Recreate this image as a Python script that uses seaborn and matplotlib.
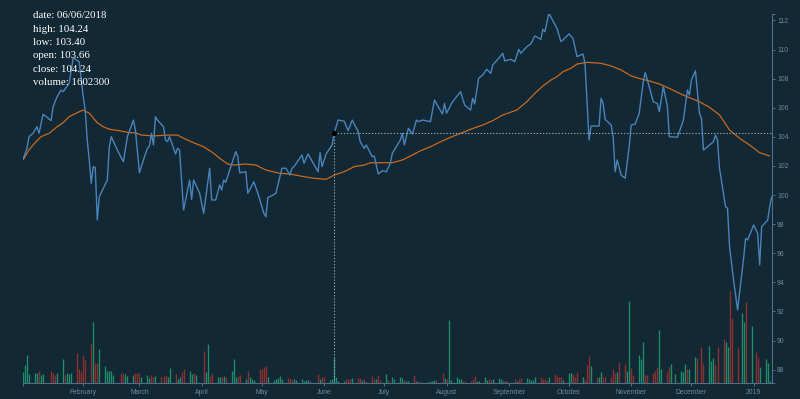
import pandas as pd
import matplotlib
matplotlib.use('Agg')
import matplotlib.pyplot as plt
import seaborn as sns

# price line vertices (days since 2018-01-01)
close_days = [1, 3, 4, 6, 8, 9, 11, 13, 15, 16, 18, 20, 21, 24, 26, 29, 31, 32, 33, 34, 35, 36, 37, 38, 39,
              43, 44, 45, 48, 51, 53, 56, 57, 59, 61, 63, 64, 65, 66, 67, 68, 71, 72, 73, 74, 77, 78, 79, 81,
              84, 85, 86, 89, 91, 94, 95, 97, 99, 100, 101, 102, 104, 107, 108, 109, 112, 113, 116, 118, 121,
              122, 123, 124, 127, 130, 132, 134, 135, 136, 140, 141, 143, 148, 149, 150, 152, 155, 156, 158,
              161, 163, 165, 168, 169, 171, 172, 175, 176, 178, 180, 182, 184, 185, 187, 189, 190, 191, 193,
              195, 197, 198, 200, 204, 206, 208, 210, 211, 212, 215, 216, 219, 220, 221, 224, 225, 226, 228,
              230, 232, 234, 235, 238, 240, 241, 244, 246, 248, 249, 252, 254, 256, 259, 260, 261, 263, 267,
              269, 270, 273, 275, 277, 280, 281, 283, 284, 288, 289, 290, 291, 294, 295, 296, 297, 299, 301,
              303, 304, 306, 308, 310, 311, 313, 315, 317, 318, 320, 322, 323, 327, 328, 330, 332, 333, 334,
              336, 338, 339, 340, 345, 346, 347, 348, 351, 352, 353, 355, 357, 360, 361, 362, 365, 367, 368,
              369, 372, 373, 374]
close_prices = [102.45, 103.21, 104.01, 104.24, 104.69, 104.24, 105.55, 105.34, 105.11, 106.07, 106.76,
                107.22, 107.10, 107.68, 109.42, 109.16, 106.76, 105.84, 103.78, 102.41, 100.80, 101.95,
                101.88, 98.28, 99.88, 101.03, 103.32, 104.01, 103.09, 102.29, 104.01, 105.15, 104.47,
                101.53, 102.41, 103.21, 103.37, 104.24, 103.44, 105.38, 105.15, 104.69, 103.78, 103.66,
                104.01, 102.82, 103.21, 103.09, 98.97, 101.03, 99.70, 101.03, 100.12, 98.74, 101.84, 99.66,
                99.66, 100.69, 100.34, 101.03, 100.87, 101.72, 102.98, 102.63, 101.53, 101.60, 100.12,
                100.91, 100.12, 98.74, 98.51, 99.84, 99.88, 100.12, 101.84, 101.84, 101.37, 101.84, 101.95,
                102.75, 102.18, 102.82, 101.60, 102.91, 101.95, 102.82, 103.44, 104.24, 105.15, 105.08,
                104.42, 105.15, 104.35, 103.66, 103.21, 103.44, 102.63, 102.68, 101.44, 101.67, 101.60,
                102.18, 102.87, 103.32, 103.78, 104.24, 103.44, 104.58, 104.19, 105.15, 105.04, 105.15,
                105.04, 106.53, 106.03, 105.57, 106.30, 105.62, 106.41, 106.58, 107.10, 106.65, 106.19,
                105.84, 106.65, 106.25, 108.02, 108.25, 108.64, 108.36, 108.93, 109.40, 109.74, 109.21,
                109.33, 109.16, 110.01, 109.74, 110.19, 110.38, 110.93, 110.70, 111.39, 111.22, 112.49,
                111.46, 110.54, 110.65, 111.07, 110.77, 109.51, 109.69, 109.00, 103.78, 104.74, 104.74,
                106.65, 106.30, 105.20, 104.81, 104.01, 101.60, 102.41, 101.37, 101.15, 103.32, 104.81,
                104.88, 105.62, 107.79, 108.41, 107.44, 106.41, 106.30, 105.73, 107.44, 106.12, 104.01,
                103.97, 104.35, 105.15, 107.22, 106.87, 107.90, 108.54, 105.62, 105.27, 103.09, 103.66,
                104.12, 103.78, 101.84, 99.20, 99.09, 96.45, 94.16, 92.10, 95.65, 97.02, 96.91, 97.94,
                97.37, 95.19, 97.82, 98.28, 99.20, 99.88]

# moving average curve
ma_days = [1, 4, 6, 10, 14, 18, 21, 24, 28, 31, 34, 38, 41, 44, 49, 54, 57, 60, 66, 73, 78, 81, 86, 91,
           96, 99, 103, 106, 112, 117, 122, 129, 134, 141, 146, 152, 156, 161, 166, 171, 174, 179, 185,
           190, 194, 199, 204, 209, 214, 219, 224, 230, 235, 240, 247, 252, 256, 260, 264, 267, 270, 274,
           277, 282, 289, 294, 299, 304, 309, 313, 318, 323, 328, 333, 338, 343, 348, 353, 358, 363, 368,
           373]
ma_values = [102.41, 103.09, 103.44, 104.01, 104.24, 104.69, 104.97, 105.38, 105.66, 105.84, 105.62,
             104.97, 104.69, 104.52, 104.42, 104.28, 104.28, 104.12, 104.06, 104.12, 104.12, 103.90,
             103.59, 103.32, 102.87, 102.52, 102.13, 102.06, 102.13, 102.06, 101.72, 101.49, 101.44,
             101.26, 101.15, 101.08, 101.37, 101.60, 101.95, 102.06, 102.22, 102.22, 102.22, 102.41,
             102.68, 103.04, 103.32, 103.66, 103.97, 104.24, 104.52, 104.81, 105.11, 105.50, 105.84,
             106.41, 106.99, 107.49, 107.90, 108.13, 108.47, 108.71, 109.00, 109.12, 109.05, 108.87,
             108.59, 108.18, 107.97, 107.84, 107.63, 107.33, 106.99, 106.69, 106.41, 106.03, 105.50,
             104.47, 103.90, 103.44, 102.91, 102.68]

# daily volume (millions) per month, U = up day, D = down day
vol_jan = [0.75, 1.18, 1.82, 0.60, 0.68, 0.64, 0.81, 0.53, 0.60, 0.81, 0.68, 0.53, 0.64, 1.56, 0.53,
           0.64, 0.60, 0.64, 1.92, 0.90, 0.75]
dir_jan = "UUUUUUDUUDDDUUDUUUDDD"
vol_feb = [1.82, 1.50, 2.52, 3.95, 1.28, 1.28, 2.18, 1.11, 0.81, 0.81, 0.81, 0.53, 0.68, 0.64, 0.60,
           0.47, 0.53, 0.68, 0.68]
dir_feb = "DDDUDDUUUUUUDDUUUDD"
vol_mar = [0.64, 0.43, 0.53, 0.32, 0.53, 0.38, 0.47, 0.38, 0.47, 0.53, 0.38, 0.96, 0.60, 0.26, 0.43,
           0.75, 0.90, 0.81, 0.60, 0.64, 0.53]
dir_mar = "DUUUDDUDDDUUDUUDDUUDU"
vol_apr = [2.09, 0.75, 2.52, 0.47, 0.64, 0.43, 0.43, 0.38, 0.47, 0.43, 0.81, 1.54, 0.43, 0.47, 0.53,
           0.26, 0.81, 0.43, 0.26, 0.21, 0.90]
dir_apr = "DUUDDUUDUDUUUDDUDUUUD"
vol_may = [0.90, 1.03, 1.11, 0.38, 0.21, 0.28, 0.32, 0.47, 0.28, 0.36, 0.36, 0.21, 0.28, 0.21, 0.28,
           0.17, 0.21, 0.19, 0.15, 0.60, 0.26, 0.43]
dir_may = "DDDUUUUUUDDDUUUUUUDDUD"
vol_jun = [0.38, 0.21, 0.30, 1.60, 0.43, 0.17, 0.17, 0.26, 0.26, 0.30, 0.36, 0.34, 0.34, 0.21, 0.30,
           0.11, 0.49, 0.26, 0.30, 0.51, 0.21]
dir_jun = "DUUUUUUDDDUDDUDUDDUDD"
vol_jul = [0.60, 0.21, 0.43, 0.26, 0.38, 0.32, 0.21, 0.15, 0.13, 0.53, 0.17, 0.15, 0.11, 0.11, 0.11,
           0.15, 0.17, 0.21, 0.21, 0.64, 0.36]
dir_jul = "UDUUUUDUUDUDUDUUUUDDU"
vol_aug = [0.30, 4.06, 0.21, 0.38, 0.30, 0.26, 0.13, 0.15, 0.17, 0.26, 0.47, 0.17, 0.15, 0.38, 0.21,
           0.26, 0.21, 0.26, 0.32, 0.28, 0.21, 0.17, 0.13]
dir_aug = "DUUUUUDDDDDUUUUDDUUUDUD"
vol_sep = [0.30, 0.17, 0.26, 0.34, 0.34, 0.26, 0.21, 0.21, 0.38, 0.38, 0.26, 0.26, 0.21, 0.38, 0.60,
           0.49, 0.38, 0.43, 0.21]
dir_sep = "DUDDUUUUUDDDDUDDDDU"
vol_oct = [0.64, 0.64, 0.60, 0.43, 0.75, 0.38, 0.21, 1.17, 1.75, 1.11, 0.38, 0.38, 0.75, 0.38, 0.38,
           0.38, 0.90, 0.64, 0.70, 1.39, 1.24, 0.81, 5.30]
dir_oct = "UUDDDUDDDUDUUDDDDDUDDUU"
vol_nov = [0.96, 0.53, 1.82, 1.56, 2.67, 0.53, 0.53, 0.68, 0.81, 1.03, 3.42, 0.90, 0.75, 1.07, 1.24,
           0.60, 0.81, 0.75, 1.24, 0.90, 0.90]
dir_nov = "DDUUUDDDDDUUDDUUUUUDU"
vol_dec = [1.67, 1.60, 2.31, 1.32, 2.39, 1.43, 1.60, 1.17, 2.31, 2.84, 2.67, 2.35, 5.92, 4.17, 2.24,
           4.49, 3.95, 5.19, 3.68]
dir_dec = "UDDDUUUDDDUUDDDUUDU"
vol_jan19 = [2.03, 1.71, 1.07, 1.56, 1.28, 0.15, 0.15]
dir_jan19 = "DDUUUUU"

holidays = ['2018-01-15', '2018-02-19', '2018-03-30', '2018-05-28', '2018-07-04', '2018-09-03',
            '2018-11-22', '2018-12-05', '2018-12-25', '2019-01-01']

month_ticks = ['2018-02-01', '2018-03-01', '2018-04-01', '2018-05-01', '2018-06-01', '2018-07-01',
               '2018-08-01', '2018-09-01', '2018-10-01', '2018-11-01', '2018-12-01', '2019-01-01']
month_labels = ['February', 'March', 'April', 'May', 'June', 'July', 'August', 'September',
                'October', 'November', 'December', '2019']
price_ticks = [88, 90, 92, 94, 96, 98, 100, 102, 104, 106, 108, 110, 112]

info_lines = ['date: 06/06/2018', 'high: 104.24', 'low: 103.40', 'open: 103.66',
              'close: 104.24', 'volume: 1602300']
cross_date = '2018-06-06'
cross_price = 104.24

BG = '#122834'
AXIS = '#4f6f88'
LABEL = '#6d8aa1'
UP = '#1f8f6b'
DOWN = '#902f2f'

start = pd.Timestamp('2018-01-01')
close = pd.DataFrame({'date': start + pd.to_timedelta(close_days, unit='D'), 'close': close_prices})
ma = pd.DataFrame({'date': start + pd.to_timedelta(ma_days, unit='D'), 'ma': ma_values})

trade_dates = pd.bdate_range('2018-01-02', '2019-01-10')
trade_dates = trade_dates[~trade_dates.isin(pd.to_datetime(holidays))]
volumes = vol_jan + vol_feb + vol_mar + vol_apr + vol_may + vol_jun + vol_jul + vol_aug + vol_sep \
    + vol_oct + vol_nov + vol_dec + vol_jan19
dirs = dir_jan + dir_feb + dir_mar + dir_apr + dir_may + dir_jun + dir_jul + dir_aug + dir_sep \
    + dir_oct + dir_nov + dir_dec + dir_jan19
vol = pd.DataFrame({'date': trade_dates, 'volume': volumes, 'dir': list(dirs)})

sns.set_style('dark')
plt.rcParams['font.family'] = ['Liberation Sans', 'DejaVu Sans']

fig = plt.figure(figsize=(8, 3.99), dpi=100, facecolor=BG)
rect = [23 / 800, 15.7 / 399, 748.7 / 800, 369.3 / 399]
xlo, xhi = pd.Timestamp('2018-01-02'), pd.Timestamp('2019-01-10')

ax_vol = fig.add_axes(rect)
ax_vol.set_facecolor(BG)
ax_vol.vlines(vol['date'], 0, vol['volume'], linewidth=0.96,
              colors=[UP if d == 'U' else DOWN for d in vol['dir']])
ax_vol.set_xlim(xlo, xhi)
ax_vol.set_ylim(0, 23.67)
ax_vol.set_xticks([])
ax_vol.set_yticks([])
for s in ax_vol.spines.values():
    s.set_visible(False)

ax = fig.add_axes(rect)
ax.patch.set_visible(False)
sns.lineplot(data=ma, x='date', y='ma', ax=ax, color='#c96a1e', linewidth=0.9, estimator=None)
sns.lineplot(data=close, x='date', y='close', ax=ax, color='#4a84ba', linewidth=1.0, estimator=None)

cd = pd.Timestamp(cross_date)
ylo, yhi = 87.06, 112.44
ax.vlines(cd, ylo, cross_price, colors='#8ea6ba', linestyles=(0, (1.2, 1.6)), linewidth=0.8)
ax.hlines(cross_price, cd, xhi, colors='#8ea6ba', linestyles=(0, (1.2, 1.6)), linewidth=0.8)
ax.scatter([cd], [cross_price], s=14, color='black', zorder=5, linewidths=0)

ax.set_xlim(xlo, xhi)
ax.set_ylim(ylo, yhi)
ax.set_xlabel('')
ax.set_ylabel('')
ax.yaxis.tick_right()
ax.set_yticks(price_ticks)
ax.set_yticks([ylo, yhi], minor=True)
ax.set_xticks(pd.to_datetime(month_ticks))
ax.set_xticklabels(month_labels)
ax.set_xticks([xlo], minor=True)
ax.grid(False)
for side in ['left', 'top']:
    ax.spines[side].set_visible(False)
for side in ['bottom', 'right']:
    ax.spines[side].set_visible(True)
    ax.spines[side].set_color(AXIS)
    ax.spines[side].set_linewidth(0.8)
ax.tick_params(which='both', colors=AXIS, labelcolor=LABEL, labelsize=4.9, length=2.4, width=0.7)
ax.tick_params(axis='x', which='both', bottom=True, pad=1.6)
ax.tick_params(axis='y', which='both', right=True, left=False, pad=1.4)

for i, line in enumerate(info_lines):
    fig.text(33 / 800, 1 - (15.7 + i * 13.4) / 399, line, color='white', fontsize=7.8,
             family=['Liberation Serif', 'DejaVu Serif'], va='center', ha='left')

fig.savefig('out.png', dpi=100, facecolor=BG)
